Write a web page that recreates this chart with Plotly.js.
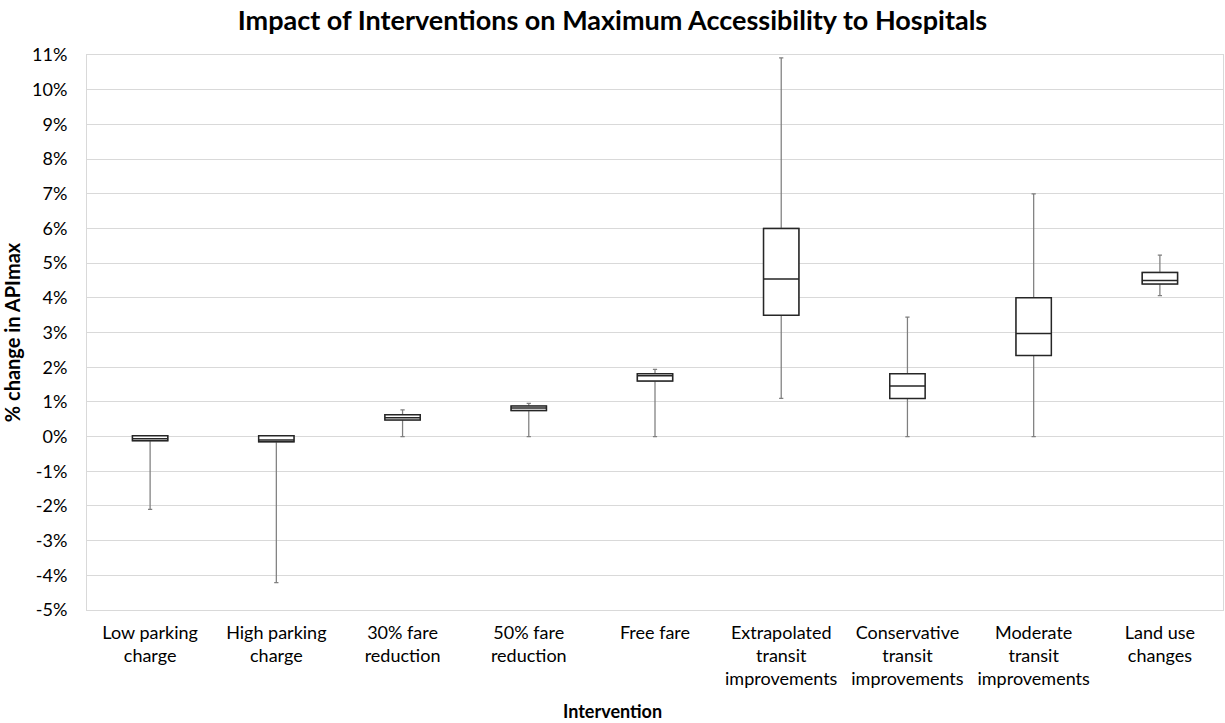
<!DOCTYPE html>
<html>
<head>
<meta charset="utf-8">
<script src="https://cdn.plot.ly/plotly-3.0.1.min.js"></script>
<style>html,body{margin:0;padding:0;background:#fff;}#chart{width:1225px;height:723px;}</style>
</head>
<body>
<div id="chart"></div>
<script>
var categories = [
  "Low parking<br>charge",
  "High parking<br>charge",
  "30% fare<br>reduction",
  "50% fare<br>reduction",
  "Free fare",
  "Extrapolated<br>transit<br>improvements",
  "Conservative<br>transit<br>improvements",
  "Moderate<br>transit<br>improvements",
  "Land use<br>changes"
];
var lowerWhisker = [-0.0210, -0.0421, 0.0000, 0.0000, 0.0000, 0.0110, 0.0000, 0.0000, 0.0406];
var q1Values     = [-0.0012, -0.0015, 0.0048, 0.0075, 0.0160, 0.0350, 0.0110, 0.0234, 0.0440];
var medianValues = [-0.0006, -0.0010, 0.0054, 0.0082, 0.0175, 0.0454, 0.0146, 0.0297, 0.0450];
var q3Values     = [0.0002, 0.0002, 0.0063, 0.0088, 0.0181, 0.0600, 0.0181, 0.0400, 0.0473];
var upperWhisker = [0.0003, 0.0003, 0.0077, 0.0096, 0.0194, 0.1092, 0.0344, 0.0700, 0.0523];

var yTickValues = [-0.05, -0.04, -0.03, -0.02, -0.01, 0, 0.01, 0.02, 0.03, 0.04, 0.05, 0.06, 0.07, 0.08, 0.09, 0.10, 0.11];
var yTickLabels = ["-5%", "-4%", "-3%", "-2%", "-1%", "0%", "1%", "2%", "3%", "4%", "5%", "6%", "7%", "8%", "9%", "10%", "11%"];

var FONT = "Lato, 'Open Sans', sans-serif";

var whiskerTrace = {
  type: "box",
  x: categories,
  q1: q1Values,
  median: medianValues,
  q3: q3Values,
  lowerfence: lowerWhisker,
  upperfence: upperWhisker,
  boxpoints: false,
  whiskerwidth: 0.12,
  line: {color: "#7f7f7f", width: 1.25},
  fillcolor: "#ffffff",
  showlegend: false,
  hoverinfo: "skip"
};
var boxTrace = {
  type: "box",
  x: categories,
  q1: q1Values,
  median: medianValues,
  q3: q3Values,
  lowerfence: q1Values,
  upperfence: q3Values,
  boxpoints: false,
  whiskerwidth: 0,
  line: {color: "#262626", width: 1.5},
  fillcolor: "#ffffff",
  showlegend: false
};

var layout = {
  width: 1225,
  height: 723,
  paper_bgcolor: "#ffffff",
  plot_bgcolor: "#ffffff",
  margin: {l: 87, r: 2, t: 55, b: 113},
  boxmode: "overlay",
  boxgap: 0.6,
  font: {family: FONT, size: 18, color: "#000000"},
  title: {
    text: "<b>Impact of Interventions on Maximum Accessibility to Hospitals</b>",
    font: {family: FONT, size: 27, color: "#000000"},
    x: 0.5, xanchor: "center", xref: "container",
    y: 0.972, yanchor: "middle", yref: "container"
  },
  xaxis: {
    type: "category",
    showgrid: false,
    showline: true,
    linecolor: "#d9d9d9",
    linewidth: 1,
    mirror: true,
    ticks: "outside",
    ticklen: 6,
    tickcolor: "rgba(0,0,0,0)",
    tickfont: {family: FONT, size: 18, color: "#000000"},
    automargin: false
  },
  yaxis: {
    range: [-0.05, 0.11],
    tickmode: "array",
    tickvals: yTickValues,
    ticktext: yTickLabels,
    showgrid: true,
    gridcolor: "#d9d9d9",
    gridwidth: 1,
    zeroline: false,
    showline: true,
    linecolor: "#d9d9d9",
    mirror: true,
    ticks: "outside",
    ticklen: 15,
    tickcolor: "rgba(0,0,0,0)",
    tickfont: {family: FONT, size: 18, color: "#000000"},
    title: {text: "<b>% change in APImax</b>", font: {family: FONT, size: 20, color: "#000000"}, standoff: 10},
    automargin: false
  },
  annotations: [{
    text: "<b>Intervention</b>",
    xref: "paper", yref: "paper",
    x: (612 - 87) / 1136, y: -(711 - 610) / 555,
    xanchor: "center", yanchor: "middle",
    showarrow: false,
    font: {family: FONT, size: 18, color: "#000000"}
  }]
};

Plotly.newPlot("chart", [whiskerTrace, boxTrace], layout, {displayModeBar: false, staticPlot: true});
</script>
</body>
</html>
